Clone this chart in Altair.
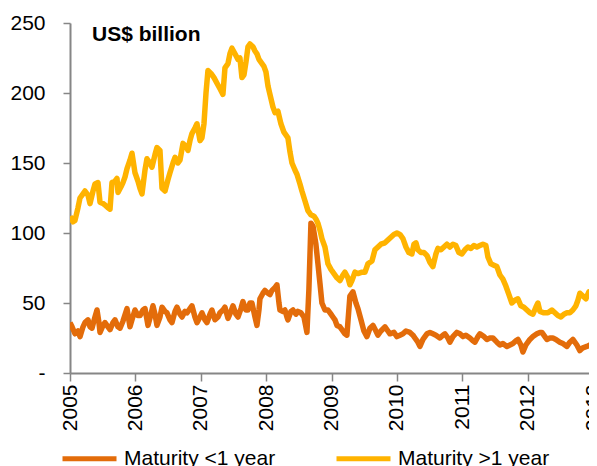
import altair as alt
import pandas as pd

# Offsets in years from 2005.0 and values (US$ billion)
long_t = [0.000, 0.046, 0.076, 0.122, 0.153, 0.199, 0.229, 0.275, 0.306, 0.352, 0.382, 0.428, 0.459, 0.505,
          0.535, 0.581, 0.612, 0.642, 0.688, 0.719, 0.734, 0.780, 0.810, 0.841, 0.872, 0.917, 0.948, 0.994,
          1.040, 1.070, 1.101, 1.147, 1.177, 1.223, 1.254, 1.300, 1.330, 1.376, 1.407, 1.453, 1.498, 1.529,
          1.575, 1.606, 1.651, 1.682, 1.728, 1.774, 1.804, 1.835, 1.865, 1.911, 1.942, 1.988, 2.018, 2.049,
          2.080, 2.110, 2.156, 2.202, 2.248, 2.294, 2.339, 2.370, 2.416, 2.446, 2.477, 2.523, 2.569, 2.599,
          2.630, 2.661, 2.691, 2.722, 2.752, 2.798, 2.829, 2.859, 2.890, 2.936, 2.966, 2.997, 3.028, 3.058,
          3.104, 3.135, 3.180, 3.226, 3.272, 3.333, 3.364, 3.395, 3.440, 3.471, 3.517, 3.547, 3.593, 3.639,
          3.685, 3.731, 3.761, 3.792, 3.823, 3.853, 3.899, 3.945, 3.991, 4.037, 4.083, 4.128, 4.174, 4.205,
          4.251, 4.281, 4.312, 4.358, 4.404, 4.465, 4.511, 4.557, 4.618, 4.664, 4.710, 4.755, 4.817, 4.862,
          4.908, 4.954, 5.000, 5.046, 5.092, 5.138, 5.183, 5.229, 5.260, 5.291, 5.321, 5.367, 5.413, 5.459,
          5.505, 5.550, 5.596, 5.627, 5.673, 5.719, 5.765, 5.810, 5.856, 5.902, 5.948, 5.994, 6.040, 6.086,
          6.131, 6.177, 6.223, 6.269, 6.315, 6.361, 6.391, 6.437, 6.483, 6.529, 6.575, 6.621, 6.667, 6.713,
          6.758, 6.804, 6.850, 6.896, 6.942, 6.988, 7.034, 7.080, 7.125, 7.156, 7.187, 7.248, 7.309, 7.370,
          7.416, 7.462, 7.508, 7.554, 7.600, 7.645, 7.691, 7.737, 7.768, 7.798, 7.844, 7.890, 7.936, 7.982,
          8.028, 8.073]
long_v = [112, 108, 109, 118, 125, 128, 130, 127, 121, 130, 135, 136, 122, 121,
          120, 118, 117, 136, 137, 139, 129, 133, 136, 140, 146, 152, 157, 143,
          137, 132, 128, 145, 153, 150, 147, 156, 161, 159, 132, 130, 138, 143,
          150, 154, 150, 152, 164, 162, 159, 166, 171, 175, 178, 166, 168, 178,
          200, 216, 214, 211, 207, 203, 199, 218, 221, 228, 232, 228, 224, 225,
          211, 213, 222, 233, 235, 233, 230, 228, 224, 221, 219, 215, 205, 199,
          190, 186, 187, 178, 172, 168, 158, 150, 145, 142, 135, 130, 123, 116,
          113, 112, 110, 107, 102, 96, 90, 78, 74, 71, 68, 66, 70, 72,
          68, 63, 66, 72, 71, 72, 72, 78, 80, 88, 90, 92, 93, 95,
          97, 99, 100, 99, 96, 90, 86, 85, 92, 93, 88, 86, 86, 84,
          79, 76, 85, 89, 88, 90, 92, 90, 92, 91, 86, 85, 88, 90,
          89, 91, 90, 91, 92, 91, 83, 78, 77, 76, 70, 67, 62, 56,
          50, 52, 53, 48, 47, 45, 43, 42, 47, 50, 44, 43, 43, 45,
          43, 41, 40, 42, 43, 43, 45, 48, 52, 57, 55, 53, 58, 57,
          58, 55]

short_t = [0.000, 0.031, 0.076, 0.122, 0.153, 0.199, 0.229, 0.275, 0.306, 0.336, 0.382, 0.413, 0.443, 0.459,
           0.505, 0.535, 0.581, 0.612, 0.657, 0.688, 0.734, 0.765, 0.810, 0.872, 0.917, 0.948, 0.994, 1.040,
           1.070, 1.116, 1.147, 1.193, 1.239, 1.269, 1.300, 1.330, 1.376, 1.407, 1.453, 1.483, 1.529, 1.560,
           1.606, 1.636, 1.682, 1.713, 1.758, 1.789, 1.835, 1.865, 1.911, 1.942, 1.988, 2.018, 2.064, 2.095,
           2.141, 2.171, 2.217, 2.263, 2.294, 2.339, 2.370, 2.416, 2.462, 2.492, 2.538, 2.569, 2.615, 2.645,
           2.691, 2.722, 2.752, 2.783, 2.829, 2.859, 2.890, 2.905, 2.951, 2.982, 3.028, 3.058, 3.089, 3.135,
           3.165, 3.196, 3.211, 3.257, 3.287, 3.318, 3.333, 3.379, 3.410, 3.456, 3.486, 3.532, 3.578, 3.624,
           3.654, 3.685, 3.716, 3.761, 3.792, 3.823, 3.853, 3.899, 3.945, 3.991, 4.021, 4.052, 4.083, 4.128,
           4.159, 4.205, 4.235, 4.281, 4.327, 4.373, 4.404, 4.450, 4.495, 4.541, 4.587, 4.633, 4.679, 4.709,
           4.755, 4.817, 4.862, 4.893, 4.954, 5.000, 5.046, 5.092, 5.138, 5.199, 5.245, 5.275, 5.321, 5.352,
           5.398, 5.459, 5.505, 5.550, 5.596, 5.657, 5.703, 5.734, 5.780, 5.810, 5.856, 5.917, 5.963, 6.009,
           6.055, 6.116, 6.162, 6.193, 6.239, 6.269, 6.330, 6.376, 6.422, 6.468, 6.529, 6.575, 6.621, 6.682,
           6.728, 6.774, 6.820, 6.850, 6.896, 6.927, 6.972, 7.034, 7.080, 7.141, 7.187, 7.217, 7.263, 7.294,
           7.340, 7.385, 7.431, 7.492, 7.538, 7.600, 7.645, 7.691, 7.752, 7.798, 7.844, 7.905, 7.951, 7.997,
           8.058]
short_v = [36, 33, 28, 30, 26, 33, 36, 38, 33, 32, 40, 45, 36, 29,
           34, 36, 33, 31, 36, 38, 33, 32, 37, 46, 33, 38, 45, 41,
           41, 45, 46, 34, 42, 48, 42, 34, 40, 47, 44, 43, 38, 36,
           44, 47, 42, 40, 44, 43, 46, 48, 40, 36, 40, 43, 38, 36,
           42, 45, 38, 40, 43, 45, 47, 39, 44, 48, 42, 40, 46, 51,
           45, 45, 50, 50, 40, 34, 45, 53, 57, 59, 57, 56, 59, 61,
           63, 50, 45, 44, 45, 40, 38, 44, 45, 42, 44, 43, 40, 29,
           60, 107, 105, 92, 78, 64, 50, 45, 45, 42, 40, 38, 34, 33,
           31, 28, 27, 55, 58, 50, 46, 38, 30, 26, 32, 34, 30, 27,
           30, 33, 30, 28, 29, 26, 27, 28, 30, 29, 27, 25, 22, 19,
           24, 28, 29, 28, 27, 25, 27, 28, 25, 22, 26, 29, 28, 26,
           27, 25, 23, 22, 26, 28, 26, 24, 25, 25, 22, 20, 21, 19,
           20, 21, 23, 24, 20, 15, 20, 24, 26, 28, 29, 29, 26, 24,
           25, 25, 24, 22, 21, 19, 22, 24, 20, 16, 18, 19, 20, 21,
           22]

series_names = ["Maturity <1 year", "Maturity >1 year"]
series_colors = ["#E36C0A", "#FFB300"]
year_ticks = [2005, 2006, 2007, 2008, 2009, 2010, 2011, 2012, 2013]
value_ticks = [0, 50, 100, 150, 200, 250]
unit_label = ["US$ billion"]

df = pd.concat([
    pd.DataFrame({"year": [2005 + t for t in short_t], "value": short_v, "series": series_names[0]}),
    pd.DataFrame({"year": [2005 + t for t in long_t], "value": long_v, "series": series_names[1]}),
], ignore_index=True)

FONT = "Liberation Sans"
GRAY = "#868686"

lines = alt.Chart(df).mark_line(strokeWidth=5.5, strokeJoin="round", clip=True).encode(
    x=alt.X("year:Q",
            scale=alt.Scale(domain=[2005, 2013.06], nice=False, zero=False),
            axis=alt.Axis(values=year_ticks, format="d", labelAngle=-90, title=None,
                          tickSize=8, labelPadding=3, grid=False)),
    y=alt.Y("value:Q",
            scale=alt.Scale(domain=[0, 250], nice=False),
            axis=alt.Axis(values=value_ticks, title=None, tickSize=7, labelPadding=18, grid=False,
                          labelExpr="datum.value == 0 ? '-\u00a0\u00a0' : datum.label")),
    color=alt.Color("series:N",
                    scale=alt.Scale(domain=series_names, range=series_colors),
                    legend=alt.Legend(title=None, orient="none", legendX=-10, legendY=406,
                                      direction="horizontal", symbolType="stroke",
                                      symbolStrokeWidth=5, symbolSize=2916, labelFontSize=21,
                                      labelFont=FONT, labelColor="#000000", labelOffset=5,
                                      columnPadding=50)),
    order="year:Q",
)

label = alt.Chart(pd.DataFrame({"t": unit_label})).mark_text(
    font=FONT, fontSize=21, fontWeight="bold", color="#000000", align="left", baseline="alphabetic"
).encode(text="t:N", x=alt.value(22), y=alt.value(18))

chart = alt.layer(lines, label).properties(
    width=527, height=350,
    autosize=alt.AutoSizeParams(type="none"),
    padding={"left": 62, "top": 15, "right": -8, "bottom": 95},
).configure_view(stroke=None).configure_axis(
    domainColor=GRAY, domainWidth=2, tickColor=GRAY, tickWidth=1.5,
    labelFont=FONT, labelFontSize=21, labelColor="#000000",
)

chart.save("out.html", embed_options={"renderer": "svg", "actions": False})
